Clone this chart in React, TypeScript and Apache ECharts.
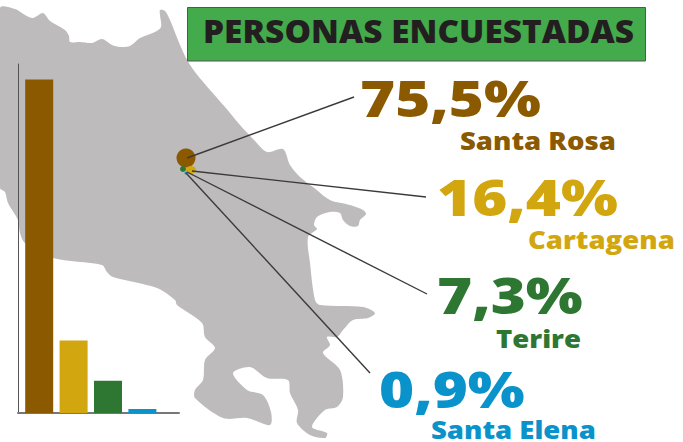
import React, { useEffect, useRef } from "react";
import * as echarts from "echarts";

const title = "PERSONAS ENCUESTADAS";
const categories = ["Santa Rosa", "Cartagena", "Terire", "Santa Elena"];
const values = [75.5, 16.4, 7.3, 0.9];
const percentLabels = ["75,5%", "16,4%", "7,3%", "0,9%"];
const colors = ["#8B5A00", "#D2A60F", "#2E7732", "#0A93CB"];

const coast: number[][] = [
  [0,8],[15,9],[25,15],[33,18],[43,13],[50,21],[65,30],[69,36],[70,42],[80,42],[92,43],[102,39],[112,45],[120,47],[130,46],[140,38],[155,32],[161,27],[160,15],[160,10],[165,11],[170,20],[178,40],[186,58],[195,72],[210,90],[225,107],[240,125],[255,141],[267,152],[283,149],[290,165],[300,177],[313,187],[330,200],[350,205],[363,210],[366,214],[360,220],[358,226],[350,226],[343,220],[340,213],[330,212],[317,217],[314,225],[317,229],[308,237],[310,263],[315,300],[320,305],[363,307],[375,313],[368,318],[353,320],[343,330],[337,337],[327,337],[330,345],[323,353],[340,370],[343,397],[337,407],[325,410],[312,427],[327,433],[325,438],[310,435],[297,423],[298,410],[290,393],[288,380],[267,378],[250,367],[233,373],[247,390],[263,395],[271,412],[270,425],[247,418],[223,418],[195,398],[195,390],[203,380],[205,360],[215,348],[205,337],[202,323],[177,305],[175,300],[157,288],[113,277],[107,272],[102,265],[53,258],[25,243],[20,233],[18,220],[8,203],[5,192],[0,188],
];

const AXIS_MAX = 79;

export default function App() {
  const ref = useRef<HTMLDivElement>(null);
  useEffect(() => {
    const chart = echarts.init(ref.current!, null, { renderer: "svg" });
    const font = '"Open Sans", "Noto Sans", sans-serif';
    const leaders = [
      [187, 158, 354, 97],
      [192, 171, 426, 197],
      [187, 172, 427, 294],
      [186, 173, 370, 373],
    ];
    const pctPos = [
      { x: 360, y: 98, sx: 1.2 },
      { x: 437, y: 197, sx: 1.2 },
      { x: 437, y: 295, sx: 1.2 },
      { x: 379, y: 389, sx: 1.2 },
    ];
    const namePos = [
      { x: 460, y: 140 },
      { x: 528, y: 239 },
      { x: 496, y: 338 },
      { x: 431, y: 429 },
    ];
    const graphic: any[] = [
      { type: "polygon", z: 0, shape: { points: coast, smooth: 0.3 }, style: { fill: "#BDBBBC" } },
      { type: "rect", z: 5, shape: { x: 187.5, y: 7.5, width: 458, height: 53.5 }, style: { fill: "#43AB4B", stroke: "#555", lineWidth: 1 } },
      { type: "text", z: 6, x: 203, y: 31, scaleX: 1.045, style: { text: title, font: `800 32px ${font}`, fill: "#231F20", textVerticalAlign: "middle" } },
      { type: "circle", z: 6, shape: { cx: 186, cy: 158, r: 9.5 }, style: { fill: "#8B5A00" } },
      { type: "ellipse", z: 6, shape: { cx: 191, cy: 170, rx: 5, ry: 4 }, style: { fill: "#D2A60F" } },
      { type: "circle", z: 6, shape: { cx: 183, cy: 169, r: 3 }, style: { fill: "#2E7732" } },
      { type: "circle", z: 6, shape: { cx: 186, cy: 173, r: 1.5 }, style: { fill: "#0A93CB" } },
      ...leaders.map(([x1, y1, x2, y2]) => ({
        type: "line", z: 7, shape: { x1, y1, x2, y2 }, style: { stroke: "#3A3A3A", lineWidth: 1.4 },
      })),
      ...percentLabels.map((t, i) => ({
        type: "text", z: 8, x: pctPos[i].x, y: pctPos[i].y, scaleX: pctPos[i].sx,
        style: { text: t, font: `800 50px ${font}`, fill: colors[i], textVerticalAlign: "middle" },
      })),
      ...categories.map((t, i) => ({
        type: "text", z: 8, x: namePos[i].x, y: namePos[i].y, scaleX: 1.1,
        style: { text: t, font: `800 25px ${font}`, fill: colors[i], textVerticalAlign: "middle" },
      })),
    ];
    chart.setOption({
      animation: false,
      backgroundColor: "#fff",
      grid: [
        { left: 18, top: 64, width: 161, height: 349 },
        { left: 22, top: 64, width: 137.6, height: 349 },
      ],
      xAxis: [
        { gridIndex: 0, type: "value", min: 0, max: 1, axisLine: { show: true, onZero: false, lineStyle: { color: "#777", width: 2 } }, axisTick: { show: false }, axisLabel: { show: false }, splitLine: { show: false } },
        { gridIndex: 1, type: "category", data: categories, axisLine: { show: false }, axisTick: { show: false }, axisLabel: { show: false } },
      ],
      yAxis: [
        { gridIndex: 0, type: "value", min: 0, max: 1, axisLine: { show: true, onZero: false, lineStyle: { color: "#555", width: 1 } }, axisTick: { show: false }, axisLabel: { show: false }, splitLine: { show: false } },
        { gridIndex: 1, type: "value", min: 0, max: AXIS_MAX, axisLine: { show: false }, axisTick: { show: false }, axisLabel: { show: false }, splitLine: { show: false } },
      ],
      series: [
        {
          type: "bar",
          xAxisIndex: 1,
          yAxisIndex: 1,
          barWidth: 28,
          z: 3,
          data: values.map((v, i) => ({ value: v, itemStyle: { color: colors[i] } })),
        },
      ],
      graphic: { elements: graphic },
    });
    return () => chart.dispose();
  }, []);
  return <div ref={ref} style={{ position: "fixed", left: 0, top: 0, width: 683, height: 442 }} />;
}
